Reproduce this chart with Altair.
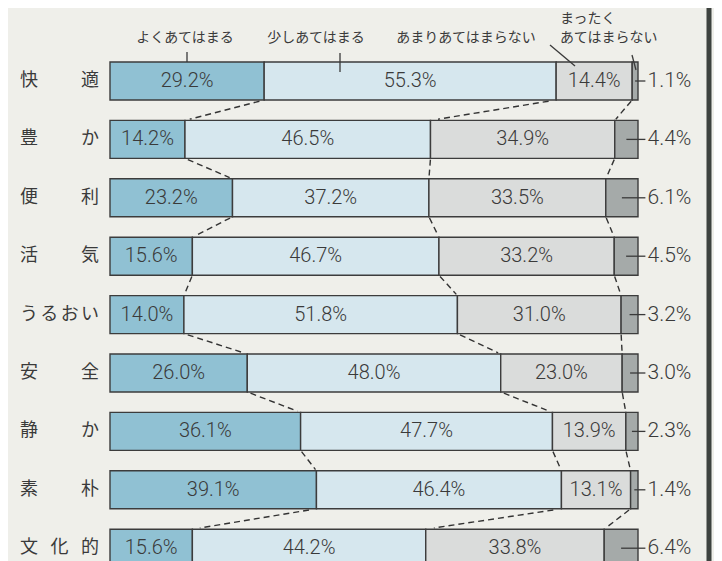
import altair as alt
import pandas as pd

# ---- data ----
categories = ["快適", "豊か", "便利", "活気", "うるおい", "安全", "静か", "素朴", "文化的"]
very_true = [29.2, 14.2, 23.2, 15.6, 14.0, 26.0, 36.1, 39.1, 15.6]
somewhat_true = [55.3, 46.5, 37.2, 46.7, 51.8, 48.0, 47.7, 46.4, 44.2]
not_very_true = [14.4, 34.9, 33.5, 33.2, 31.0, 23.0, 13.9, 13.1, 33.8]
not_at_all_true = [1.1, 4.4, 6.1, 4.5, 3.2, 3.0, 2.3, 1.4, 6.4]
series = ["よくあてはまる", "少しあてはまる", "あまりあてはまらない", "まったくあてはまらない"]
series_colors = ["#90c1d3", "#d6e7ee", "#dadcdb", "#a5aaa9"]

# legend annotation texts (top)
legend_text = ["よくあてはまる", "少しあてはまる", "あまりあてはまらない", "まったく", "あてはまらない"]

# ---- layout helpers ----
PX0, PX_PER_UNIT = 110.0, 5.28     # x: 0% at page px 110
PY0, PY_PER_ROW = 81.0, 58.4       # y: row 0 centre at page px 81
HALF = 0.325                        # half bar height in row units


def px_x(px):
    return (px - PX0) / PX_PER_UNIT


def px_y(py):
    return (py - PY0) / PY_PER_ROW


values = [very_true, somewhat_true, not_very_true, not_at_all_true]

seg_rows, in_labels, out_labels, out_ticks = [], [], [], []
cums = []
for i, cat in enumerate(categories):
    start = 0.0
    c = []
    for k, s in enumerate(series):
        v = values[k][i]
        end = start + v
        seg_rows.append(dict(row=i, series=s, x=start, x2=end, y=i - HALF, y2=i + HALF))
        if k < 3:
            in_labels.append(dict(row=i, x=(start + end) / 2, label=f"{v:.1f}%"))
        else:
            out_labels.append(dict(row=i, x=101.8, label=f"{v:.1f}%"))
            out_ticks.append(dict(row=i, x=(start + end) / 2, x2=101.4))
        c.append(end)
        start = end
    cums.append(c)

segs = pd.DataFrame(seg_rows)
inl = pd.DataFrame(in_labels)
outl = pd.DataFrame(out_labels)
outt = pd.DataFrame(out_ticks)

# dashed connectors between boundaries of consecutive bars
conn = []
for i in range(len(categories) - 1):
    for k in range(3):
        xa, xb = cums[i][k], cums[i + 1][k]
        ya, yb = i + HALF, i + 1 - HALF
        t0, t1 = 0.06, 0.94
        conn.append(dict(x=xa + (xb - xa) * t0, x2=xa + (xb - xa) * t1,
                         y=ya + (yb - ya) * t0, y2=ya + (yb - ya) * t1))
conn = pd.DataFrame(conn)

# row labels: characters spread between page px 20 and 100
chars = []
for i, cat in enumerate(categories):
    n = len(cat)
    for j, ch in enumerate(cat):
        cx = 29 + (90 - 29) * j / (n - 1)
        chars.append(dict(row=i, x=px_x(cx), ch=ch))
chars = pd.DataFrame(chars)

# legend annotations
leg = pd.DataFrame(dict(
    label=legend_text,
    x=[px_x(185), px_x(316), px_x(466), px_x(560), px_x(560)],
    y=[px_y(38), px_y(38), px_y(38), px_y(19), px_y(38)],
    align=["center", "center", "center", "left", "left"],
))
leg_lines = pd.DataFrame(dict(
    x=[px_x(187), px_x(340), px_x(550), px_x(632)],
    x2=[px_x(187), px_x(340), px_x(575), px_x(636)],
    y=[px_y(52), px_y(53), px_y(45), px_y(55)],
    y2=[px_y(62), px_y(72), px_y(66), px_y(70)],
))

W, H = 530, 553
ys = alt.Scale(domain=[px_y(8), px_y(8 + H)], nice=False, zero=False, reverse=True)


def X(f="x"):
    return alt.X(f"{f}:Q", scale=alt.Scale(domain=[0, W / PX_PER_UNIT], nice=False, zero=False), axis=None)


def Y(f="y"):
    return alt.Y(f"{f}:Q", scale=ys, axis=None)


TXT = "#3a3a3a"
NUMFONT = "Roboto"
JPFONT = "Noto Sans CJK JP"

bars = alt.Chart(segs).mark_rect(stroke="#3c3c3c", strokeWidth=1.4).encode(
    x=X("x"), x2="x2", y=Y("y"), y2="y2",
    color=alt.Color("series:N", scale=alt.Scale(domain=series, range=series_colors), legend=None),
)

inside = alt.Chart(inl).mark_text(font=NUMFONT, fontWeight=300, fontSize=20, color=TXT,
                                  baseline="middle", align="center").encode(
    x=X("x"), y=Y("row"), text="label:N")

ticks = alt.Chart(outt).mark_rule(color=TXT, strokeWidth=1.3).encode(
    x=X("x"), x2="x2", y=Y("row"))

outside = alt.Chart(outl).mark_text(font=NUMFONT, fontWeight=300, fontSize=21, color=TXT,
                                    baseline="middle", align="left").encode(
    x=X("x"), y=Y("row"), text="label:N")

dashes = alt.Chart(conn).mark_rule(color="#333333", strokeWidth=1.4, strokeDash=[6, 4]).encode(
    x=X("x"), x2="x2", y=Y("y"), y2="y2")

rowlab = alt.Chart(chars).mark_text(font=JPFONT, fontSize=18, color=TXT,
                                    baseline="middle", align="center").encode(
    x=X("x"), y=Y("row"), text="ch:N")

legtxt_c = alt.Chart(leg[leg["align"] == "center"]).mark_text(
    font=JPFONT, fontSize=14, color=TXT, baseline="middle", align="center").encode(
    x=X("x"), y=Y("y"), text="label:N")
legtxt_l = alt.Chart(leg[leg["align"] == "left"]).mark_text(
    font=JPFONT, fontSize=14, color=TXT, baseline="middle", align="left").encode(
    x=X("x"), y=Y("y"), text="label:N")

leglines = alt.Chart(leg_lines).mark_rule(color=TXT, strokeWidth=1.3).encode(
    x=X("x"), x2="x2", y=Y("y"), y2="y2")

edge = alt.Chart(pd.DataFrame({"a": [0]})).mark_rule(color="#3d423f", strokeWidth=5).encode(
    x=alt.value(599), y=alt.value(-10), y2=alt.value(H + 10))

chart = alt.layer(
    dashes, bars, ticks, inside, outside, rowlab, legtxt_c, legtxt_l, leglines, edge
).properties(
    width=W, height=H,
    autosize=alt.AutoSizeParams(type="none"),
    padding={"left": 102, "top": 0, "right": 74, "bottom": 0},
).configure(background="#efefea").configure_view(stroke=None)

chart.save("out.html", embed_options={"renderer": "svg", "actions": False})
